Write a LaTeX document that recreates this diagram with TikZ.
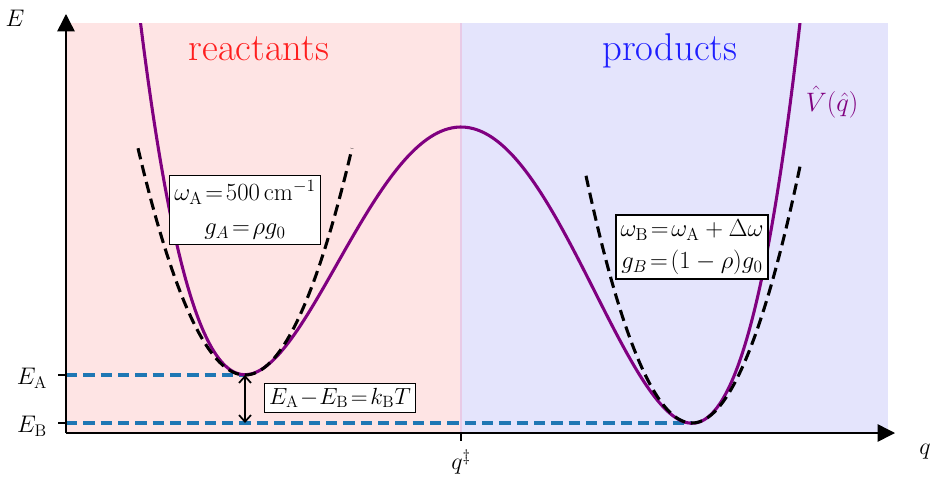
\RequirePackage{fix-cm}
\documentclass[tikz,border=0pt]{standalone}
\usetikzlibrary{arrows.meta}

\definecolor{bgreact}{RGB}{254,228,228}
\definecolor{bgprod}{RGB}{228,228,252}
\definecolor{levelblue}{RGB}{31,119,180}
\definecolor{curvepurple}{RGB}{128,0,128}
\definecolor{splitline}{RGB}{232,202,230}

\tikzset{
  axisline/.style={line width=1.1pt, -{Triangle[width=13pt,length=13pt]}},
  levelline/.style={levelblue, line width=2.3pt, dash pattern={on 8.5pt off 4.5pt}},
  harmline/.style={black, line width=2.3pt, dash pattern={on 8.5pt off 4.5pt}},
  infobox/.style={draw, line width=1.2pt, fill=white, align=center, inner sep=3.5pt,
    font=\fontsize{18.5}{22}\selectfont},
  axislabel/.style={font=\fontsize{18}{21}\selectfont},
  regionlabel/.style={anchor=base, font=\fontsize{29}{33}\selectfont}
}

\begin{document}
\begin{tikzpicture}[x=0.75pt,y=0.75pt,yscale=-1,xscale=1]
\useasboundingbox (0,0) rectangle (930,482);

% regions
\fill[bgreact] (66,23) rectangle (461,433);
\fill[bgprod] (461,23) rectangle (888,433);
\draw[splitline, line width=2pt] (461,23) -- (461,433);

\node[regionlabel, text={rgb,255:red,255;green,30;blue,30}] (react) at (259,60) {reactants};
\node[regionlabel, text={rgb,255:red,30;green,30;blue,255}] (prod) at (670,60) {products};

% energy levels
\coordinate (minA) at (245,375);
\coordinate (minB) at (692,423);
\coordinate (levB) at (245,423);
\draw[levelline] (66,375) -- (minA);
\draw[levelline] (66,423) -- (minB);

% potential
\begin{scope}
\clip (66,23) rectangle (888,433);
\draw[curvepurple, line width=2.3pt] plot[domain=-3.3:3.5, samples=160, smooth]
  ({461+100*\x}, {127-43.5*(0.25*\x*\x*\x*\x-0.05*\x*\x*\x-2.4948*\x*\x)});
\end{scope}

% harmonic approximations
\draw[harmline] plot[domain=138:352, samples=80, smooth] (\x, {375-0.0198*(\x-245)*(\x-245)});
\draw[harmline] plot[domain=586:800, samples=80, smooth] (\x, {423-0.022*(\x-692)*(\x-692)});

% axes
\coordinate (origin) at (66,433);
\coordinate (ytip) at (66,14);
\coordinate (xtip) at (895,433);
\draw[axisline] (origin) -- (ytip);
\draw[axisline] (origin) -- (xtip);
\draw[line width=1.1pt] (58,375) -- (66,375);
\draw[line width=1.1pt] (58,423) -- (66,423);
\draw[line width=1.1pt] (461,433) -- (461,441);

% labels
\node[axislabel] (Elab) at (15,18) {$E$};
\node[axislabel] (qlab) at (925,452) {$q$};
\node[axislabel] (EAlab) at (32,378) {$E_{\mathrm{A}}$};
\node[axislabel] (EBlab) at (32,426) {$E_{\mathrm{B}}$};
\node[axislabel] (qts) at (461,462) {$q^{\ddagger}$};
\node[axislabel, text=curvepurple, font=\fontsize{20}{24}\selectfont] (Vlab) at (832,102) {$\hat{V}(\hat{q})$};

% boxes
\node[infobox] (boxA) at (245,210) {$\omega_{\mathrm{A}}\!=\!500\,\mathrm{cm}^{-1}$\\[4pt] $g_A\!=\!\rho g_0$};
\node[infobox] (boxB) at (692,247) {$\omega_{\mathrm{B}}\!=\!\omega_{\mathrm{A}}+\Delta\omega$\\[2pt] $g_B\!=\!(1-\rho)g_0$};
\node[infobox, font=\fontsize{17.5}{21}\selectfont] (boxgap) at (340,398) {$E_{\mathrm{A}}\!-\!E_{\mathrm{B}}\!=\!k_{\mathrm{B}}T$};

\draw[{Straight Barb[length=5pt,width=9pt]}-{Straight Barb[length=5pt,width=9pt]}, line width=1.3pt] (minA) -- (levB);

\end{tikzpicture}
\end{document}
